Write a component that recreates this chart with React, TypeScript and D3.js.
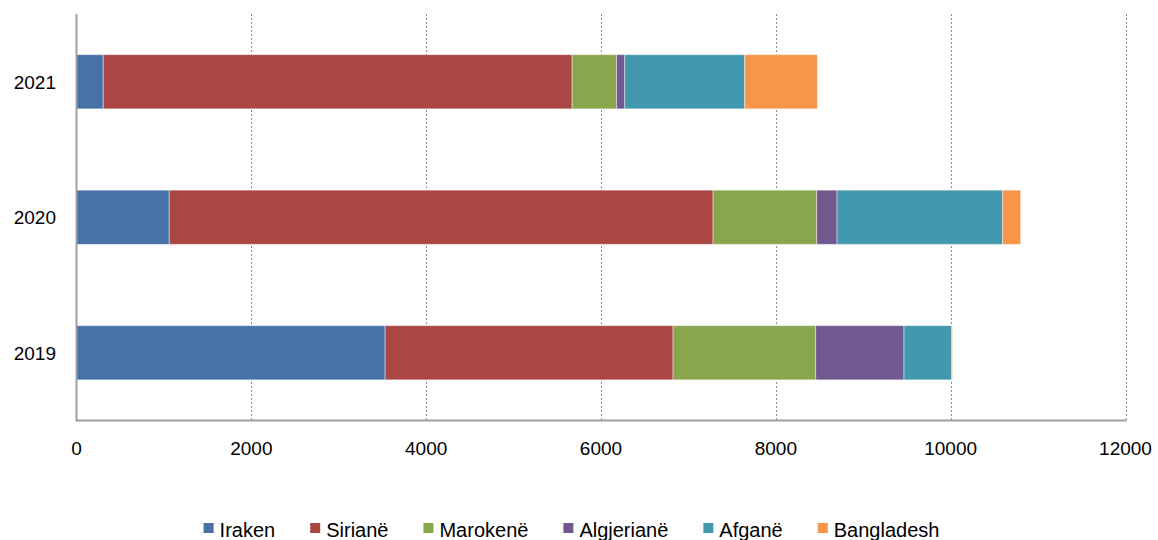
import React, { useEffect, useRef } from "react";
import * as d3 from "d3";

const years = ["2021", "2020", "2019"];
const seriesNames = ["Iraken", "Sirianë", "Marokenë", "Algjerianë", "Afganë", "Bangladesh"];
const iraken = [306, 1061, 3531];
const siriane = [5364, 6221, 3293];
const marokene = [507, 1186, 1632];
const algjeriane = [95, 232, 1010];
const afgane = [1372, 1895, 545];
const bangladesh = [832, 206, 8];
const xTicks = [0, 2000, 4000, 6000, 8000, 10000, 12000];
const colors = ["#4572A7", "#AA4643", "#89A54E", "#71588F", "#4198AF", "#F79646"];

export default function App() {
  const ref = useRef<SVGSVGElement>(null);
  useEffect(() => {
    document.body.style.margin = "0";
    const svg = d3.select(ref.current);
    svg.selectAll("*").remove();
    const left = 76.5, right = 1125.5, top = 14, bottom = 420.5;
    const font = "'Liberation Sans', Arial, sans-serif";
    const x = d3.scaleLinear().domain([0, 12000]).range([left, right]);
    const y = d3.scaleBand().domain(years).range([top, bottom]).paddingInner(0.6).paddingOuter(0.3);

    const table = years.map((yr, i) => ({
      year: yr,
      Iraken: iraken[i], "Sirianë": siriane[i], "Marokenë": marokene[i],
      "Algjerianë": algjeriane[i], "Afganë": afgane[i], Bangladesh: bangladesh[i],
    }));
    const stacked = d3.stack<any>().keys(seriesNames)(table);

    // gridlines
    svg.append("g").selectAll("line").data(xTicks.slice(1)).join("line")
      .attr("x1", d => Math.round(x(d)) + 0.5).attr("x2", d => Math.round(x(d)) + 0.5)
      .attr("y1", top).attr("y2", bottom)
      .attr("stroke", "#8c8c8c").attr("stroke-width", 1).attr("stroke-dasharray", "2,2");

    // bars
    const g = svg.append("g");
    stacked.forEach((s, si) => {
      g.append("g").attr("fill", colors[si]).selectAll("rect").data(s).join("rect")
        .attr("x", d => x(d[0]))
        .attr("width", d => Math.max(0, x(d[1]) - x(d[0])))
        .attr("y", (d: any) => y(d.data.year)!)
        .attr("height", y.bandwidth())
        .attr("stroke", "#ffffff").attr("stroke-opacity", 0.45).attr("stroke-width", 1);
    });

    // axes lines
    svg.append("line").attr("x1", left).attr("x2", left).attr("y1", top).attr("y2", bottom + 1)
      .attr("stroke", "#a0a0a0").attr("stroke-width", 2);
    svg.append("line").attr("x1", left).attr("x2", right + 1).attr("y1", bottom).attr("y2", bottom)
      .attr("stroke", "#a0a0a0").attr("stroke-width", 2);

    // x tick labels
    svg.append("g").selectAll("text").data(xTicks).join("text")
      .attr("x", d => x(d)).attr("y", 455)
      .attr("text-anchor", "middle").attr("font-family", font).attr("font-size", 19)
      .attr("fill", "#000").text(d => String(d));

    // y labels
    svg.append("g").selectAll("text").data(years).join("text")
      .attr("x", 56).attr("y", d => y(d)! + y.bandwidth() / 2 + 7)
      .attr("text-anchor", "end").attr("font-family", font).attr("font-size", 19)
      .attr("fill", "#000").text(d => d);

    // legend
    const lg = svg.append("g");
    const gap = 35;
    let cx = 0;
    const items = seriesNames.map((name, i) => {
      const it = lg.append("g");
      it.append("rect").attr("x", 0).attr("y", -14).attr("width", 10).attr("height", 10).attr("fill", colors[i]);
      const t = it.append("text").attr("x", 16).attr("y", 0).attr("font-family", font).attr("font-size", 20)
        .attr("fill", "#000").text(name);
      const w = (t.node() as SVGTextElement).getComputedTextLength();
      const start = cx;
      cx += 16 + w + gap;
      return { it, start };
    });
    const total = cx - gap;
    const offset = 571.5 - total / 2;
    items.forEach(({ it, start }) => it.attr("transform", `translate(${offset + start},537)`));
  }, []);
  return <svg ref={ref} width={1158} height={540} style={{ display: "block", background: "#fff" }} />;
}
